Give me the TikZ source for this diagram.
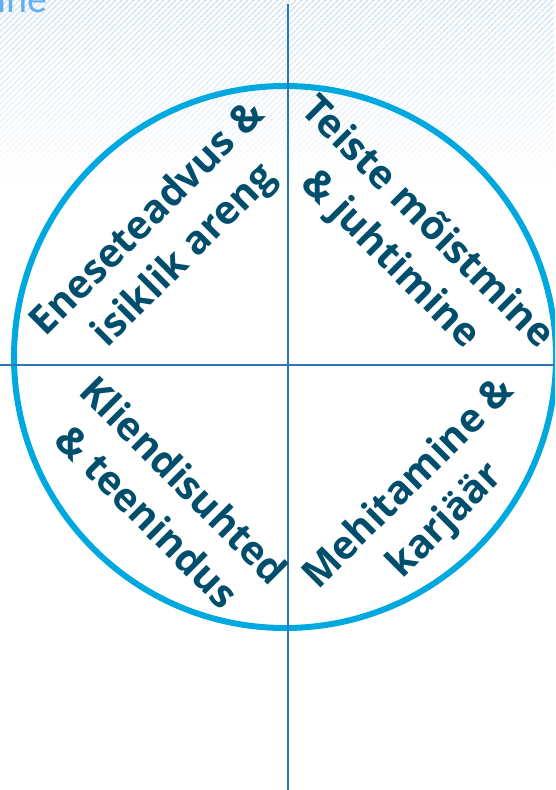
\documentclass[tikz,border=0pt]{standalone}
\usepackage{fontspec}
\setsansfont{Open Sans}[BoldFont={Open Sans Bold}]
\newfontfamily\titlefont{Carlito}
\usetikzlibrary{patterns.meta,fadings}

\definecolor{ringblue}{RGB}{0,168,224}
\definecolor{axisblue}{RGB}{46,117,182}
\definecolor{labelteal}{RGB}{0,78,108}
\definecolor{hatchblue}{RGB}{212,228,240}
\definecolor{titleblue}{RGB}{100,175,240}

\begin{document}
\begin{tikzpicture}[x=1pt,y=-1pt,
    quadrant/.style={text=labelteal, align=center,
        font=\sffamily\bfseries\fontsize{39.5}{52}\selectfont},
    axis/.style={axisblue, line width=1.6pt}]
    \useasboundingbox (0,0) rectangle (555,790);
    \clip (0,0) rectangle (555,790);

    % hatched band at the top
    \fill[pattern={Lines[angle=45,distance=4pt,line width=1.8pt]},
        pattern color=hatchblue, path fading=south] (0,0) rectangle (555,190);
    \node[anchor=base west, text=titleblue, inner sep=0pt,
        font=\titlefont\fontsize{40}{48}\selectfont] (title) at (-3,12) {ine};

    % ring
    \coordinate (c) at (285,357);
    \draw[ringblue, line width=6pt] (c) circle[radius=271];

    % cross
    \coordinate (top) at (288,4);
    \coordinate (bottom) at (288,790);
    \coordinate (left) at (0,365);
    \coordinate (right) at (555,365);
    \draw[axis] (top) -- (bottom);
    \draw[axis] (left) -- (right);

    % quadrant labels
    \node[quadrant, rotate=45] (self) at (167,238) {Eneseteadvus \&\\isiklik areng};
    \node[quadrant, rotate=-45] (lead) at (408,242) {Teiste mõistmine\\\& juhtimine};
    \node[quadrant, rotate=-45] (client) at (166,498) {Kliendisuhted\\\& teenindus};
    \node[quadrant, rotate=45] (staff) at (428,503) {Mehitamine \&\\karjäär};
\end{tikzpicture}
\end{document}
